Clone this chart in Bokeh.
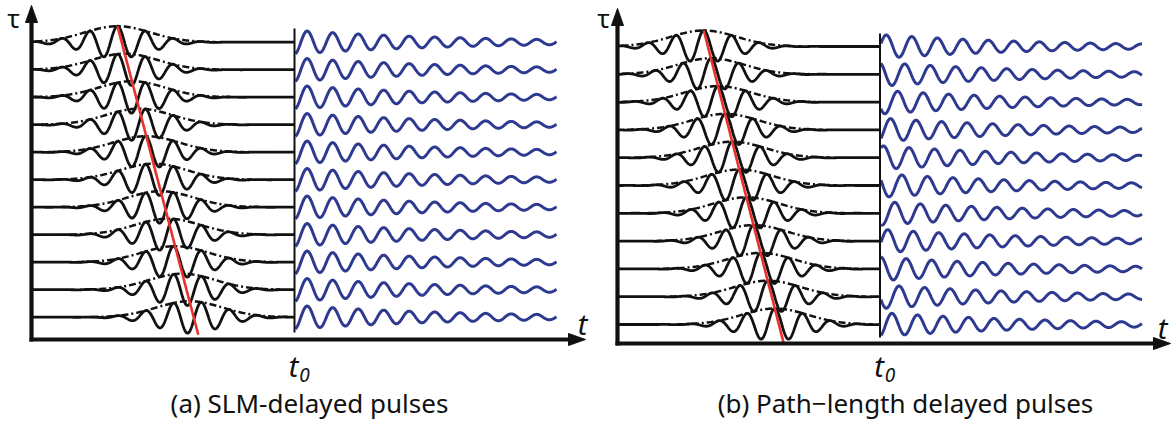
import numpy as np
from bokeh.plotting import figure
from bokeh.models import Range1d
from bokeh.core.properties import value
from bokeh.embed import file_html
from bokeh.resources import INLINE

# ---------------- values (time / delay in px units) ----------------
# delay levels (tau) of the 11 rows
tau_a = [41.7, 69.2, 96.7, 124.2, 151.7, 179.2, 206.7, 234.2, 261.7, 289.2, 316.7]
tau_b = [46.0, 73.8, 101.6, 129.4, 157.2, 185.0, 212.8, 240.6, 268.4, 296.2, 324.0]
# pulse-envelope centres (time) of each row
centre_a = [117.0, 124.2, 131.4, 138.6, 145.8, 153.0, 160.2, 167.4, 174.6, 181.8, 189.0]
centre_b = [703.3, 710.4, 717.5, 724.6, 731.7, 738.8, 745.9, 753.0, 760.1, 767.2, 774.3]
# carrier reference time: fixed for SLM delays, moves with envelope for path-length delays
carrier_a = [117.0] * 11
carrier_b = list(centre_b)
# phase (deg) of the emitted (blue) signal at t0, per row
blue_phase_a = [180] * 11
blue_phase_b = [-90, 10, 110, -150, -50, 50, 150, -110, -10, 90, -170]
# t0 of each panel
t0_a = 294.0
t0_b = 879.5
# pulse / signal shape parameters
pulse_amp = 16.0
pulse_sigma = 33.0
pulse_period = 28.0
sig_amp = 12.0
sig_period = 25.5
sig_decay = 168.0
sig_length = 262.0
captions = ["(a) SLM-delayed pulses", "(b) Path\u2212length delayed pulses"]

# ---------------- layout / style ----------------
W, H = 1172, 423
p = figure(width=W, height=H, output_backend="svg", toolbar_location=None,
           x_range=Range1d(0, W), y_range=Range1d(H, 0),
           min_border=0, outline_line_color=None)
p.axis.visible = False
p.grid.visible = False
p.background_fill_color = "white"
p.border_fill_color = "white"

BLACK = "#111111"
BLUE = "#2e3990"
RED = "#e8322c"
FONT = value("Noto Sans")

panels = [
    dict(tau=tau_a, centre=centre_a, carrier=carrier_a, phase=blue_phase_a, t0=t0_a,
         ox=31.0, oy=339.0, xtip=585.0, ytip=5.0, vl=(28.0, 332.0),
         tau_lbl=(13.0, 17.0), t_lbl=(582.0, 323.0), cap=(309.0, 402.0), cap_text=captions[0]),
    dict(tau=tau_b, centre=centre_b, carrier=carrier_b, phase=blue_phase_b, t0=t0_b,
         ox=617.0, oy=343.0, xtip=1170.0, ytip=8.0, vl=(33.0, 337.0),
         tau_lbl=(603.0, 17.0), t_lbl=(1162.0, 327.0), cap=(905.0, 402.0), cap_text=captions[1]),
]

for pn in panels:
    t0 = pn["t0"]
    xs_black, ys_black, xs_env, ys_env, xs_blue, ys_blue = [], [], [], [], [], []
    for tau, c, cref, ph in zip(pn["tau"], pn["centre"], pn["carrier"], pn["phase"]):
        x = np.linspace(pn["ox"], t0, 700)
        env = pulse_amp * np.exp(-((x - c) ** 2) / (2 * pulse_sigma ** 2))
        y = tau - env * np.cos(2 * np.pi * (x - cref) / pulse_period)
        xs_black.append(x); ys_black.append(y)
        xe = np.linspace(max(pn["ox"] + 4, c - 98), min(t0, c + 98), 200)
        ee = pulse_amp * np.exp(-((xe - c) ** 2) / (2 * pulse_sigma ** 2))
        xs_env.append(xe); ys_env.append(tau - ee)
        xb = np.linspace(t0 + 1, t0 + sig_length, 700)
        yb = tau - sig_amp * np.exp(-(xb - t0) / sig_decay) * np.cos(
            2 * np.pi * (xb - t0) / sig_period + np.deg2rad(ph))
        xs_blue.append(xb); ys_blue.append(yb)
    p.multi_line(xs_black, ys_black, line_color=BLACK, line_width=2.8)
    p.multi_line(xs_env, ys_env, line_color=BLACK, line_width=2.5, line_dash="7 3 2 3")
    # red line through envelope peaks
    tau0, tauN = pn["tau"][0], pn["tau"][-1]
    c0, cN = pn["centre"][0], pn["centre"][-1]
    slope = (cN - c0) / (tauN - tau0)
    spacing = (tauN - tau0) / (len(pn["tau"]) - 1)
    y_top = tau0 - pulse_amp
    y_bot = tauN - pulse_amp + 1.22 * spacing
    p.line([c0, c0 + slope * (y_bot - y_top)], [y_top, y_bot], line_color=RED, line_width=2.6)
    p.multi_line(xs_blue, ys_blue, line_color=BLUE, line_width=3.0)
    # t0 vertical line
    p.line([t0, t0], list(pn["vl"]), line_color=BLACK, line_width=2)
    # axes with arrowheads
    ox, oy = pn["ox"], pn["oy"]
    p.line([ox, ox], [oy + 2, pn["ytip"] + 12], line_color=BLACK, line_width=4.2)
    p.line([ox - 2, pn["xtip"] - 12], [oy, oy], line_color=BLACK, line_width=4.2)
    hl, hw = 17.0, 6.0
    p.patches([[ox - hw, ox, ox + hw], [pn["xtip"] - hl, pn["xtip"], pn["xtip"] - hl]],
              [[pn["ytip"] + hl, pn["ytip"], pn["ytip"] + hl], [oy - hw, oy, oy + hw]],
              fill_color=BLACK, line_color=BLACK, line_width=1)
    # labels
    p.text(x=[pn["tau_lbl"][0]], y=[pn["tau_lbl"][1]], text=["\u03c4"], text_font=FONT,
           text_font_size="26px", text_align="center", text_baseline="middle", text_color=BLACK)
    p.text(x=[pn["t_lbl"][0]], y=[pn["t_lbl"][1]], text=["t"], text_font=FONT,
           text_font_size="29px", text_font_style="italic", text_align="center",
           text_baseline="middle", text_color=BLACK)
    p.text(x=[t0 - 1], y=[365.0], text=["t"], text_font=FONT, text_font_size="29px",
           text_font_style="italic", text_align="center", text_baseline="middle", text_color=BLACK)
    p.text(x=[t0 + 10], y=[374.0], text=["0"], text_font=FONT, text_font_size="19px",
           text_font_style="italic", text_align="center", text_baseline="middle", text_color=BLACK)
    p.text(x=[pn["cap"][0]], y=[pn["cap"][1]], text=[pn["cap_text"]], text_font=FONT,
           text_font_size="26px", text_align="center", text_baseline="middle", text_color=BLACK)

open("out.html", "w").write(file_html(p, INLINE))
